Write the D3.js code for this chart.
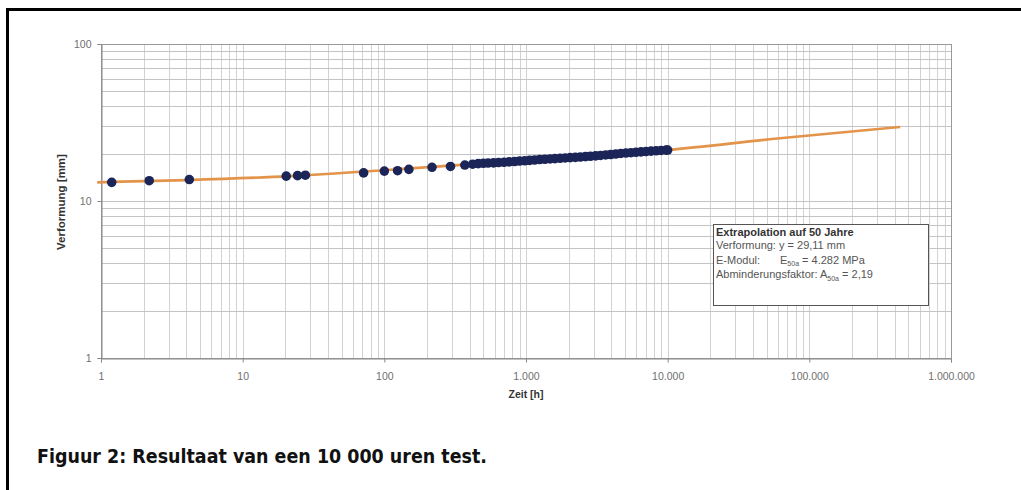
<!DOCTYPE html>
<html>
<head>
<meta charset="utf-8">
<script src="https://cdn.jsdelivr.net/npm/d3@7"></script>
<style>
  body { margin: 0; background: #fff; }
  svg { display: block; }
</style>
</head>
<body>
<div id="chart"></div>
<script>
// measured points: time [h] and deformation [mm]
const hours = [1.19, 2.19, 4.2, 20.3, 24.4, 27.7, 71.4, 100, 124, 149, 217, 293, 370,
  420, 460, 500, 540, 590, 640, 700, 760, 830, 900, 980, 1060, 1150, 1250, 1360, 1480,
  1600, 1740, 1890, 2050, 2230, 2420, 2630, 2850, 3100, 3360, 3650, 3960, 4300, 4670,
  5070, 5500, 5970, 6480, 7030, 7630, 8280, 8990, 9760, 10000];
const deformation = [13.15, 13.47, 13.7, 14.4, 14.5, 14.6, 15.1, 15.5, 15.6, 15.9, 16.4, 16.6, 16.95,
  17.15, 17.3, 17.4, 17.45, 17.5, 17.58, 17.65, 17.75, 17.85, 17.97, 18.05, 18.15, 18.25, 18.38, 18.45, 18.53,
  18.62, 18.71, 18.8, 18.88, 18.97, 19.07, 19.17, 19.28, 19.38, 19.5, 19.65, 19.78, 19.92, 20.08,
  20.2, 20.3, 20.42, 20.54, 20.65, 20.78, 20.88, 20.99, 21.08, 21.12];

// extrapolation curve
const fitHours = [0.94, 21.6, 290, 1740, 9900, 62000, 438000];
const fitDeformation = [13.15, 14.4, 16.8, 18.7, 21.1, 25.1, 29.6];

const xTicks = [1, 10, 100, 1000, 10000, 100000, 1000000];
const xTickLabels = ['1', '10', '100', '1.000', '10.000', '100.000', '1.000.000'];
const yTicks = [1, 10, 100];

const legendTitle = 'Extrapolation auf 50 Jahre';
// [label, symbol, subscript, rest]
const legendLines = [
  ['Verformung: y = 29,11 mm', '', '', ''],
  ['E-Modul:', 'E', '50a', ' = 4.282 MPa'],
  ['Abminderungsfaktor: ', 'A', '50a', ' = 2,19']
];
const caption = 'Figuur 2: Resultaat van een 10 000 uren test.';

let w = 1021;
let h = 490;
let plotLeft = 101, plotRight = 951, plotTop = 44, plotBottom = 358;
let font = 'Liberation Sans, Arial, sans-serif';

let svg = d3.select('#chart').
append('svg').
attr('width', w).
attr('height', h);

// outer frame (runs off the right and bottom edge)
svg.append('rect').
attr('x', 7.5).
attr('y', 9.5).
attr('width', 1100).
attr('height', 600).
attr('fill', 'none').
attr('stroke', '#000').
attr('stroke-width', 3);

let xScale = d3.scaleLog().
domain([1, 1000000]).
range([plotLeft, plotRight]);

let yScale = d3.scaleLog().
domain([1, 100]).
range([plotBottom, plotTop]);

// grid
let grid = svg.append('g').attr('shape-rendering', 'crispEdges');
grid.selectAll('.vx').
data(xScale.ticks()).
enter().
append('line').
attr('x1', d => Math.round(xScale(d)) + 0.5).
attr('x2', d => Math.round(xScale(d)) + 0.5).
attr('y1', plotTop).
attr('y2', plotBottom).
attr('stroke', '#d2d2d2');

grid.selectAll('.hy').
data(yScale.ticks()).
enter().
append('line').
attr('x1', plotLeft).
attr('x2', plotRight).
attr('y1', d => Math.round(yScale(d)) + 0.5).
attr('y2', d => Math.round(yScale(d)) + 0.5).
attr('stroke', '#c4c4c4');

// plot border
svg.append('rect').
attr('x', plotLeft + 0.5).
attr('y', plotTop + 0.5).
attr('width', plotRight - plotLeft).
attr('height', plotBottom - plotTop).
attr('fill', 'none').
attr('stroke', '#999').
attr('shape-rendering', 'crispEdges');

let xAxis = d3.axisBottom(xScale).
tickValues(xTicks).
tickFormat((d, i) => xTickLabels[i]).
tickSize(4).
tickPadding(10);

let yAxis = d3.axisLeft(yScale).
tickValues(yTicks).
tickFormat(d3.format('d')).
tickSize(4).
tickPadding(6);

let gx = svg.append('g').
attr('transform', 'translate(0,' + (plotBottom + 0.5) + ')').
call(xAxis);

let gy = svg.append('g').
attr('transform', 'translate(' + (plotLeft + 0.5) + ',0)').
call(yAxis);

[gx, gy].forEach(g => {
  g.select('.domain').attr('stroke', '#888');
  g.selectAll('.tick line').attr('stroke', '#888');
  g.selectAll('.tick text').
  attr('fill', '#707070').
  style('font-family', font).
  style('font-size', '10.5px');
});

// axis titles
svg.append('text').
text('Zeit [h]').
attr('x', 526).
attr('y', 398).
attr('text-anchor', 'middle').
attr('fill', '#333').
style('font-family', font).
style('font-weight', 'bold').
style('font-size', '10.5px');

svg.append('text').
text('Verformung [mm]').
attr('transform', 'translate(65,202) rotate(-90)').
attr('text-anchor', 'middle').
attr('fill', '#333').
style('font-family', font).
style('font-weight', 'bold').
style('font-size', '11.5px');

// extrapolation curve
let fitData = fitHours.map((d, i) => [d, fitDeformation[i]]);
let line = d3.line().
x(d => xScale(d[0])).
y(d => yScale(d[1])).
curve(d3.curveMonotoneX);

svg.append('path').
datum(fitData).
attr('d', line).
attr('fill', 'none').
attr('stroke', '#e3944a').
attr('stroke-width', 2.6);

// measured points
svg.selectAll('.dot').
data(hours).
enter().
append('circle').
attr('class', 'dot').
attr('cx', d => xScale(d)).
attr('cy', (d, i) => yScale(deformation[i])).
attr('r', 4.8).
attr('fill', '#1b2558');

// legend box
let lg = svg.append('g');
lg.append('rect').
attr('x', 713.5).
attr('y', 224.5).
attr('width', 215).
attr('height', 81).
attr('fill', '#fff').
attr('stroke', '#555').
attr('stroke-width', 1);

lg.append('text').
text(legendTitle).
attr('x', 716).
attr('y', 236).
attr('fill', '#333').
style('font-family', font).
style('font-weight', 'bold').
style('font-size', '11px');

legendLines.forEach((l, i) => {
  let t = lg.append('text').
  attr('x', 716).
  attr('y', 249 + i * 14.5).
  attr('fill', '#555').
  style('font-family', font).
  style('font-size', '11px');
  t.append('tspan').text(l[0]);
  if (l[1]) {
    let sym = t.append('tspan').text(l[1]);
    if (i === 1) sym.attr('x', 780);
    t.append('tspan').text(l[2]).attr('dy', 2.5).style('font-size', '7px');
    t.append('tspan').text(l[3]).attr('dy', -2.5);
  }
});

// caption
svg.append('text').
text(caption).
attr('x', 37).
attr('y', 463).
attr('textLength', 450).
attr('lengthAdjust', 'spacingAndGlyphs').
attr('fill', '#111').
style('font-family', 'DejaVu Sans Condensed, DejaVu Sans, sans-serif').
style('font-weight', 'bold').
style('font-size', '19px');
</script>
</body>
</html>
